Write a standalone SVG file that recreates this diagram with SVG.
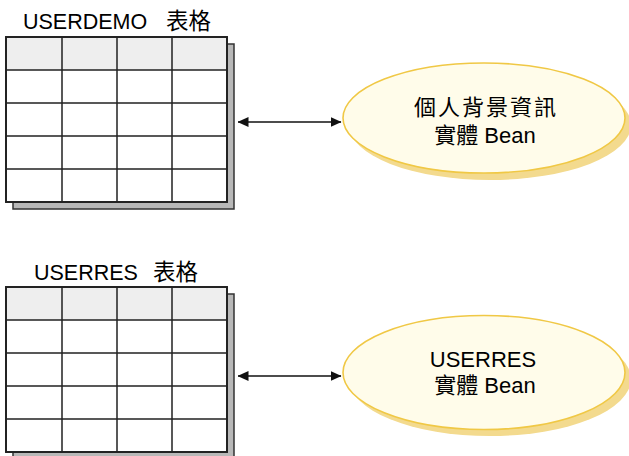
<svg xmlns="http://www.w3.org/2000/svg" width="629" height="456" viewBox="0 0 629 456">
  <style>
    .bg { fill: #ffffff; }
    .label { font-family: "Liberation Sans", "Noto Sans CJK TC", sans-serif; fill: #000000; }
    .title { font-size: 21.5px; }
    .cjk { font-size: 22.5px; }
    .etext { font-size: 22px; text-anchor: middle; }
    .tshadow { fill: #b8b8b8; stroke: #333333; stroke-width: 1.5; }
    .tframe { fill: #ffffff; stroke: #222222; stroke-width: 1.8; }
    .thead { fill: #eeeeee; }
    .grid { stroke: #222222; stroke-width: 1.5; fill: none; }
    .eshadow { fill: #f3da8e; }
    .ellipse { fill: #fffcea; stroke: #f0c845; stroke-width: 1.6; }
    .conn { stroke: #111111; stroke-width: 1.4; fill: none; marker-start: url(#head); marker-end: url(#head); }
  </style>
  <defs>
    <marker id="head" viewBox="0 0 11 10" refX="10.5" refY="5" markerWidth="11" markerHeight="10" markerUnits="userSpaceOnUse" orient="auto-start-reverse">
      <path d="M0,0 L11,5 L0,10 z" fill="#111111"/>
    </marker>
    <!-- shared 4x5 grid, origin at the table's top-left corner -->
    <g id="tableGrid">
      <rect class="tframe" x="0" y="0" width="221" height="165"/>
      <rect class="thead" x="1" y="1" width="219" height="32"/>
      <path class="grid" d="M0,33 H221 M0,66 H221 M0,99 H221 M0,132 H221 M56,0 V165 M111,0 V165 M166,0 V165"/>
      <rect x="0" y="0" width="221" height="165" fill="none" stroke="#222222" stroke-width="1.8"/>
    </g>
  </defs>

  <rect class="bg" x="0" y="0" width="629" height="456"/>

  <g id="userdemo-table">
    <text class="label title" x="23" y="29">USERDEMO<tspan class="cjk" x="166">表格</tspan></text>
    <rect class="tshadow" x="13" y="44" width="221" height="165"/>
    <use href="#tableGrid" x="6" y="37"/>
  </g>

  <g id="userres-table">
    <text class="label title" x="34" y="280">USERRES<tspan class="cjk" x="153">表格</tspan></text>
    <rect class="tshadow" x="13" y="294" width="221" height="170"/>
    <use href="#tableGrid" x="6" y="287"/>
  </g>

  <g id="profile-bean">
    <ellipse class="eshadow" cx="490" cy="125" rx="141" ry="55"/>
    <ellipse class="ellipse" cx="484" cy="118" rx="141" ry="55"/>
    <text class="label etext" x="485" y="115" textLength="142" lengthAdjust="spacing">個人背景資訊</text>
    <text class="label etext" x="485" y="143">實體 Bean</text>
  </g>

  <g id="userres-bean">
    <ellipse class="eshadow" cx="490" cy="379" rx="141" ry="57"/>
    <ellipse class="ellipse" cx="484" cy="372.5" rx="141" ry="57"/>
    <text class="label etext" x="483" y="367">USERRES</text>
    <text class="label etext" x="485" y="393">實體 Bean</text>
  </g>

  <g id="connectors">
    <line class="conn" x1="238" y1="122" x2="341" y2="122"/>
    <line class="conn" x1="238" y1="376" x2="341" y2="376"/>
  </g>
</svg>
